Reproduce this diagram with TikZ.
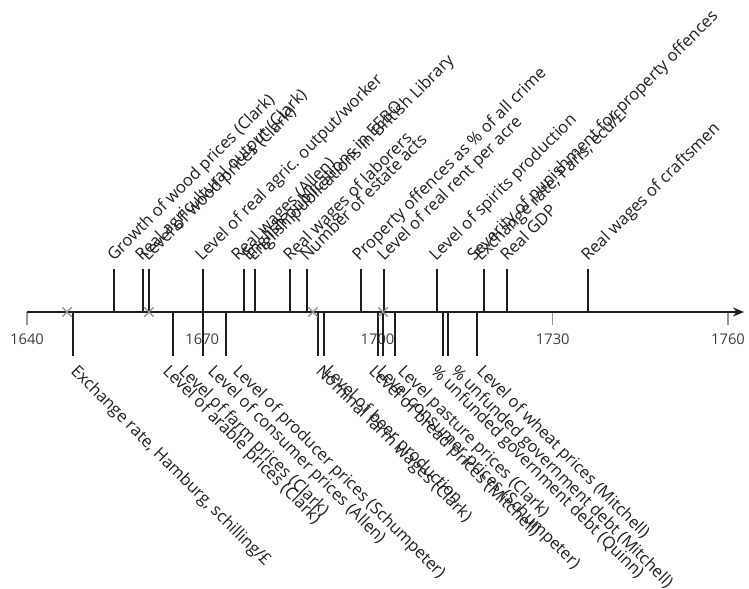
\documentclass[tikz,border=0pt]{standalone}
\usepackage{fontspec}
\setmainfont{Open Sans}
\usetikzlibrary{arrows.meta,shapes.misc}
\definecolor{ink}{RGB}{30,30,30}
\definecolor{yearc}{RGB}{60,60,60}
\definecolor{tickc}{RGB}{150,150,150}
\definecolor{missc}{RGB}{140,140,140}
\begin{document}
\begin{tikzpicture}[x=1bp,y=-1bp,
  datal/.style={line width=1.6bp, draw=ink},
  axisl/.style={line width=1.8bp, draw=ink, -{Stealth[length=11bp,width=9bp]}},
  tickl/.style={line width=1.2bp, draw=tickc},
  uplab/.style={anchor=base west, rotate=45, inner sep=0pt, font=\fontsize{16.6}{16.6}\selectfont, text=ink},
  downlab/.style={anchor=base west, rotate=-45, inner sep=0pt, font=\fontsize{16.6}{16.6}\selectfont, text=ink},
  yearlab/.style={font=\fontsize{14.8}{14.8}\selectfont, text=yearc, inner sep=0pt},
  missmark/.style={cross out, draw=missc, line width=1.4bp, minimum size=8bp, inner sep=0pt}]
\useasboundingbox (0,0) rectangle (749,589);
% axis
\coordinate (axL) at (27,312);
\coordinate (axR) at (744,312);
% ticks and year labels
\foreach \yr/\xx in {1640/27,1670/202.3,1700/377.5,1730/552.8,1760/728} {
  \coordinate (tk\yr) at (\xx,312);
  \coordinate (tke\yr) at (\xx,325);
  \draw[tickl] (tk\yr) -- (tke\yr);
  \node[yearlab] (yl\yr) at (\xx,339) {\yr};
}
\draw[axisl] (axL) -- (axR);
% lines above the axis
\foreach \xx [count=\i] in {114,143,149,203,244,255,290,307,361,384,437,484,507,588} {
  \coordinate (ua\i) at (\xx,312);
  \coordinate (ub\i) at (\xx,269);
  \draw[datal] (ua\i) -- (ub\i);
}
% lines below the axis
\foreach \xx [count=\i] in {73,173,203,226,318,324,378,383,395,443,448,477} {
  \coordinate (da\i) at (\xx,312);
  \coordinate (db\i) at (\xx,356);
  \draw[datal] (da\i) -- (db\i);
}
% missing-value marks
\foreach \xx [count=\i] in {67,149,313,383} {
  \node[missmark] (m\i) at (\xx,312) {};
}
% labels above
\node[uplab] (u1) at (114,262) {Growth of wood prices (Clark)};
\node[uplab] (u2) at (142,262) {Real agricultural output (Clark)};
\node[uplab] (u3) at (148,262) {Level of wood prices (Clark)};
\node[uplab] (u4) at (202,262) {Level of real agric. output/worker};
\node[uplab] (u5) at (238,262) {Real wages (Allen)};
\node[uplab] (u6) at (249,262) {English publications in EEBO};
\node[uplab] (u7) at (254,262) {English publications in British Library};
\node[uplab] (u8) at (290,262) {Real wages of laborers};
\node[uplab] (u9) at (307,262) {Number of estate acts};
\node[uplab] (u10) at (359,262) {Property offences as \% of all crime};
\node[uplab] (u11) at (384,262) {Level of real rent per acre};
\node[uplab] (u12) at (436,262) {Level of spirits production};
\node[uplab] (u13) at (474,262) {Severity of punishment for property offences};
\node[uplab] (u14) at (481,262) {Exchange rate, Paris, ecu/£};
\node[uplab] (u15) at (507,262) {Real GDP};
\node[uplab] (u16) at (588,262) {Real wages of craftsmen};
% labels below
\node[downlab] (d1) at (70,372) {Exchange rate, Hamburg, schilling/£};
\node[downlab] (d2) at (162,372) {Level of arable prices (Clark)};
\node[downlab] (d3) at (178,372) {Level of farm prices (Clark)};
\node[downlab] (d4) at (207,372) {Level of consumer prices (Allen)};
\node[downlab] (d5) at (232,372) {Level of producer prices (Schumpeter)};
\node[downlab] (d6) at (315,372) {Nominal farm wages (Clark)};
\node[downlab] (d7) at (323,372) {Level of beer production};
\node[downlab] (d8) at (368,372) {Level of bread prices (Mitchell)};
\node[downlab] (d9) at (376,372) {Level consumer prices (Schumpeter)};
\node[downlab] (d10) at (397,372) {Level pasture prices (Clark)};
\node[downlab] (d11) at (430,372) {\% unfunded government debt (Quinn)};
\node[downlab] (d12) at (450,372) {\% unfunded government debt (Mitchell)};
\node[downlab] (d13) at (476,372) {Level of wheat prices (Mitchell)};
\end{tikzpicture}
\end{document}
